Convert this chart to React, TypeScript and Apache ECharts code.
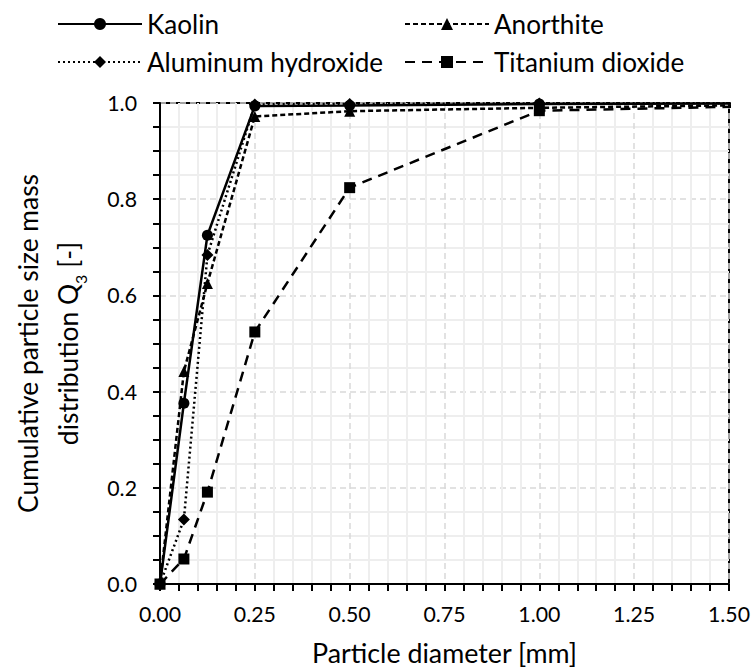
import React, { useEffect, useRef } from "react";
import * as echarts from "echarts";

const diameters = [0, 0.063, 0.125, 0.25, 0.5, 1.0, 2.0];
const kaolin = [0, 0.376, 0.725, 0.994, 0.995, 0.998, 1.0];
const anorthite = [0, 0.442, 0.625, 0.972, 0.983, 0.99, 1.0];
const aluminumHydroxide = [0, 0.134, 0.684, 0.997, 0.998, 0.999, 1.0];
const titaniumDioxide = [0, 0.052, 0.191, 0.524, 0.824, 0.984, 1.0];

const seriesNames = ["Kaolin", "Anorthite", "Aluminum hydroxide", "Titanium dioxide"];

const FONT = "Lato";

function pairs(ys: number[]) {
  return diameters.map((x, i) => [x, ys[i]]);
}

function fitSize(text: string, target: number, fallback: number) {
  try {
    const ctx = document.createElement("canvas").getContext("2d");
    if (!ctx) return fallback;
    ctx.font = `100px ${FONT}`;
    const w = ctx.measureText(text).width;
    if (!w) return fallback;
    return Math.round(((100 * target) / w) * 10) / 10;
  } catch (e) {
    return fallback;
  }
}

export default function App() {
  const ref = useRef<HTMLDivElement>(null);
  useEffect(() => {
    if (!ref.current) return;
    const chart = echarts.init(ref.current, null, { renderer: "svg" });

    const legendSize = fitSize("Aluminum hydroxide", 236, 25);
    const tickSize = fitSize("0.00", 42, 22);
    const xNameSize = fitSize("diameter [mm]", 170, 25);
    const yNameSize = fitSize("Cumulative particle size mass", 339, 25);

    const legendItem = (name: string, left: number, top: number) => ({
      orient: "horizontal",
      left,
      top,
      padding: 0,
      itemWidth: 84,
      itemHeight: 15,
      data: [name],
      textStyle: { fontFamily: FONT, fontSize: legendSize, color: "#000" },
    });

    const lineBase = { color: "#000", width: 2.5 };
    chart.setOption({
      animation: false,
      backgroundColor: "#fff",
      textStyle: { fontFamily: FONT, color: "#000" },
      grid: {
        left: 160,
        right: 25,
        top: 103,
        bottom: 84,
        show: true,
        borderColor: "#000",
        borderWidth: 2,
        backgroundColor: "transparent",
      },
      legend: [
        legendItem(seriesNames[0], 57, 11),
        legendItem(seriesNames[2], 57, 49),
        legendItem(seriesNames[1], 404, 11),
        legendItem(seriesNames[3], 404, 49),
      ],
      xAxis: {
        type: "value",
        min: 0,
        max: 1.5,
        interval: 0.25,
        name: "Particle diameter [mm]",
        nameLocation: "middle",
        nameGap: 55,
        nameTextStyle: { fontFamily: FONT, fontSize: xNameSize, color: "#000" },
        axisLine: { show: true, lineStyle: { color: "#000", width: 2 } },
        axisTick: { show: true, length: 7, lineStyle: { color: "#000", width: 2 } },
        minorTick: { show: true, splitNumber: 5, length: 7, lineStyle: { color: "#000", width: 2 } },
        splitLine: { show: true, lineStyle: { color: "#d9d9d9", width: 1.5, type: [6, 4] } },
        minorSplitLine: { show: true, lineStyle: { color: "#eeeeee", width: 2 } },
        axisLabel: {
          fontFamily: FONT,
          fontSize: tickSize,
          color: "#000",
          margin: 19,
          formatter: (v: number) => v.toFixed(2),
        },
      },
      yAxis: {
        type: "value",
        min: 0,
        max: 1,
        interval: 0.2,
        name: "Cumulative particle size mass\ndistribution Q{sub|3} [-]",
        nameLocation: "middle",
        nameRotate: 90,
        nameGap: 72,
        nameTextStyle: {
          fontFamily: FONT,
          fontSize: yNameSize,
          color: "#000",
          lineHeight: 40,
          rich: {
            sub: {
              fontFamily: FONT,
              fontSize: Math.round(yNameSize * 0.62),
              color: "#000",
              verticalAlign: "bottom",
              lineHeight: 31,
            },
          },
        },
        axisLine: { show: true, lineStyle: { color: "#000", width: 2 } },
        axisTick: { show: true, length: 7, lineStyle: { color: "#000", width: 2 } },
        minorTick: { show: true, splitNumber: 4, length: 7, lineStyle: { color: "#000", width: 2 } },
        splitLine: { show: true, lineStyle: { color: "#d9d9d9", width: 1.5, type: [6, 4] } },
        minorSplitLine: { show: true, lineStyle: { color: "#eeeeee", width: 2 } },
        axisLabel: {
          fontFamily: FONT,
          fontSize: tickSize,
          color: "#000",
          margin: 23,
          formatter: (v: number) => v.toFixed(1),
        },
      },
      series: [
        {
          name: seriesNames[0],
          type: "line",
          data: pairs(kaolin),
          symbol: "circle",
          symbolSize: 11,
          clip: true,
          itemStyle: { color: "#000" },
          lineStyle: { ...lineBase, type: "solid" },
        },
        {
          name: seriesNames[1],
          type: "line",
          data: pairs(anorthite),
          symbol: "triangle",
          symbolSize: 11,
          clip: true,
          itemStyle: { color: "#000" },
          lineStyle: { ...lineBase, type: [5, 3] },
        },
        {
          name: seriesNames[2],
          type: "line",
          data: pairs(aluminumHydroxide),
          symbol: "diamond",
          symbolSize: 12,
          clip: true,
          itemStyle: { color: "#000" },
          lineStyle: { ...lineBase, type: [2, 3] },
        },
        {
          name: seriesNames[3],
          type: "line",
          data: pairs(titaniumDioxide),
          symbol: "rect",
          symbolSize: 11,
          clip: true,
          itemStyle: { color: "#000" },
          lineStyle: { ...lineBase, type: [10, 7] },
        },
      ],
    });
    return () => chart.dispose();
  }, []);
  return (
    <div
      ref={ref}
      style={{ position: "absolute", left: 0, top: 0, width: 754, height: 671 }}
    />
  );
}
